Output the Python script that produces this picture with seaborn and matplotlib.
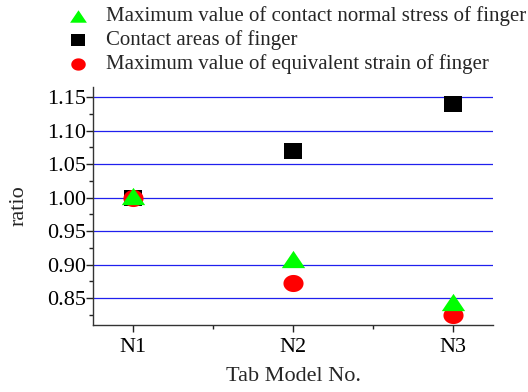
import matplotlib
matplotlib.use("Agg")
import matplotlib.pyplot as plt
import seaborn as sns
import pandas as pd
import numpy as np
from matplotlib.ticker import MultipleLocator, FixedLocator, FormatStrFormatter

models = ["N1", "N2", "N3"]
xpos = [1, 2, 3]
stress = [1.003, 0.909, 0.844]
areas = [1.0, 1.069, 1.139]
strain = [0.999, 0.873, 0.825]

labels = ["Maximum value of contact normal stress of finger",
          "Contact areas of finger",
          "Maximum value of equivalent strain of finger"]

sns.set_theme(style="ticks")
plt.rcParams["font.family"] = ["Liberation Serif", "DejaVu Serif"]

# marker shapes (slightly wider than tall, as in the reference)
tri = [(0, 0.74), (-1, -0.74), (1, -0.74), (0, 0.74)]
sq = [(-1, -0.85), (1, -0.85), (1, 0.85), (-1, 0.85), (-1, -0.85)]
t = np.linspace(0, 2 * np.pi, 40)
ell = list(zip(np.cos(t), 0.85 * np.sin(t)))

fig = plt.figure(figsize=(5.28, 3.92), dpi=100)
ax = fig.add_axes([0.176, 0.171, 0.758, 0.607])

df = pd.DataFrame({"x": xpos, "stress": stress, "areas": areas, "strain": strain})

sns.scatterplot(data=df, x="x", y="areas", marker=sq, color="black", s=13.2**2,
                linewidth=0, ax=ax, zorder=3, label=labels[1])
sns.scatterplot(data=df, x="x", y="strain", marker=ell, color="#ff0000", s=14.5**2,
                linewidth=0, ax=ax, zorder=4, label=labels[2])
sns.scatterplot(data=df, x="x", y="stress", marker=tri, color="#00ff00", s=16.8**2,
                linewidth=0, ax=ax, zorder=5, label=labels[0])

ax.set_xlim(0.75, 3.25)
ax.set_ylim(0.81, 1.165)
ax.set_xticks(xpos)
ax.set_xticklabels(models)
ax.xaxis.set_minor_locator(FixedLocator([1.5, 2.5]))
ax.yaxis.set_major_locator(MultipleLocator(0.05))
ax.yaxis.set_minor_locator(MultipleLocator(0.025))
ax.yaxis.set_major_formatter(FormatStrFormatter("%.2f"))

ax.grid(axis="y", which="major", color="#2020ee", linewidth=0.9)
ax.set_axisbelow(True)
for s in ["top", "right"]:
    ax.spines[s].set_visible(False)
for s in ["left", "bottom"]:
    ax.spines[s].set_color("#333333")
    ax.spines[s].set_linewidth(1.0)

ax.tick_params(axis="both", which="major", direction="out", length=5, width=1,
               color="#222222", labelsize=16, labelcolor="black")
ax.tick_params(axis="y", which="major", pad=0)
ax.tick_params(axis="x", which="major", pad=4.5)
ax.tick_params(axis="both", which="minor", direction="out", length=3, width=1, color="#222222")

ax.set_xlabel("Tab Model No.", fontsize=16, labelpad=7)
ax.set_ylabel("ratio", fontsize=16, labelpad=13)

handles, labs = ax.get_legend_handles_labels()
ax.get_legend().remove()
order = [labs.index(l) for l in labels]
fig.legend([handles[i] for i in order], [labs[i] for i in order],
           loc="upper left", bbox_to_anchor=(63.0 / 528, 1.0 - 4 / 392), frameon=False,
           fontsize=15, handlelength=1.2, handletextpad=0.75, labelspacing=0.2,
           borderpad=0, borderaxespad=0.1, markerscale=0.72)

fig.savefig("out.png", dpi=100)
